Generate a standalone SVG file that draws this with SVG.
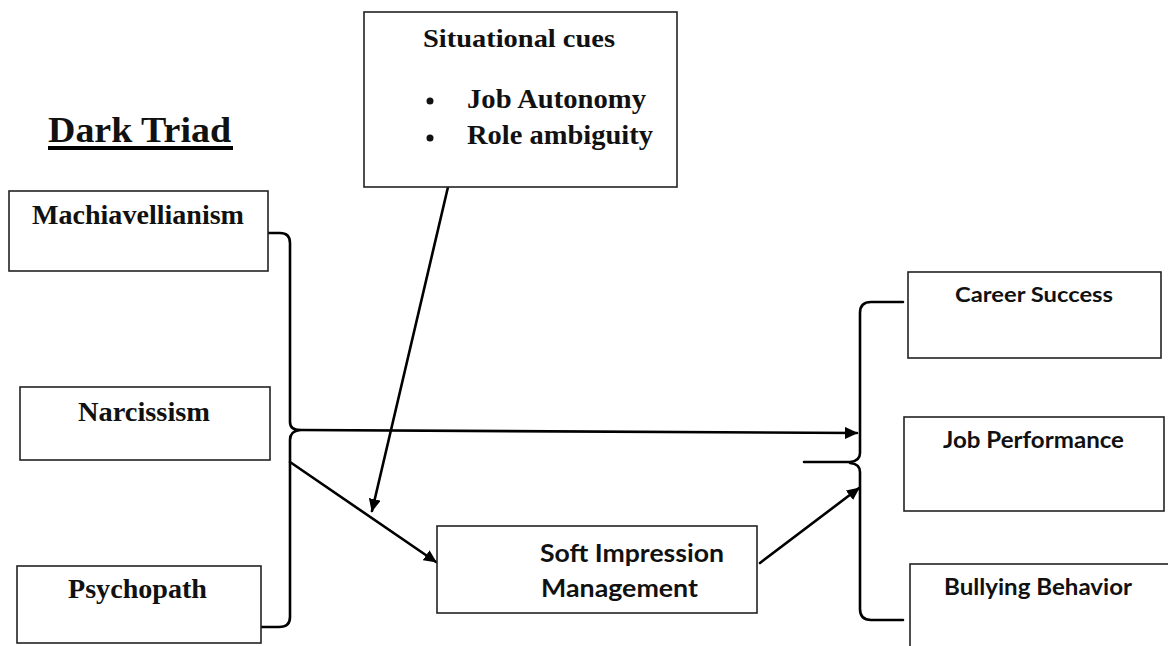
<svg xmlns="http://www.w3.org/2000/svg" width="1168" height="646" viewBox="0 0 1168 646">
  <defs>
    <style>
      .box { fill: #fff; stroke: #222; stroke-width: 1.6; }
      .serif { font-family: "Liberation Serif", "Times New Roman", serif; font-weight: bold; fill: #111; }
      .sans { font-family: Lato, "Open Sans", "Liberation Sans", sans-serif; font-weight: bold; fill: #111; }
      .wire { fill: none; stroke: #000; stroke-width: 2.6; stroke-linejoin: round; stroke-linecap: round; }
    </style>
    <marker id="arrow" viewBox="0 0 13 12" refX="12" refY="6" markerWidth="13" markerHeight="12" markerUnits="userSpaceOnUse" orient="auto">
      <path d="M0,0 L13,6 L0,12 Z" fill="#000"/>
    </marker>
  </defs>
  <rect width="1168" height="646" fill="#fff"/>

  <!-- heading -->
  <g id="title">
    <text class="serif" x="48" y="142" font-size="36" textLength="183" lengthAdjust="spacingAndGlyphs">Dark Triad</text>
    <rect x="48" y="146" width="185" height="4" fill="#000"/>
  </g>

  <!-- connectors -->
  <g id="connectors">
    <!-- brace joining the three traits -->
    <path class="wire" d="M258,233 L280,233 Q290,233 290,243 L290,422 Q290,430 300,430 Q290,431 290,440 L290,617 Q290,627 279,627 L261,627"/>
    <!-- traits to outcomes -->
    <path class="wire" d="M300,430 L857,433" marker-end="url(#arrow)"/>
    <!-- traits to soft impression management -->
    <path class="wire" d="M290,462 L436,562" marker-end="url(#arrow)"/>
    <!-- situational cues moderating -->
    <path class="wire" d="M448,187 L372,511" marker-end="url(#arrow)"/>
    <!-- soft impression management to outcomes -->
    <path class="wire" d="M760,563 L859,488" marker-end="url(#arrow)"/>
    <!-- brace joining the three outcomes -->
    <path class="wire" d="M903,302 L871,302 Q860,302 860,313 L860,453 Q860,461 850,462 L804,462"/>
    <path class="wire" d="M850,463 Q860,464 860,472 L860,609 Q860,620 871,620 L903,620"/>
  </g>

  <g id="situational-cues">
    <rect class="box" x="364" y="12" width="313" height="175"/>
    <text class="serif" x="423" y="47" font-size="25" textLength="192" lengthAdjust="spacingAndGlyphs">Situational cues</text>
    <circle cx="430" cy="101" r="3.5" fill="#111"/>
    <text class="serif" x="467" y="108" font-size="28" textLength="179" lengthAdjust="spacingAndGlyphs">Job Autonomy</text>
    <circle cx="430" cy="138" r="3.5" fill="#111"/>
    <text class="serif" x="467" y="144" font-size="28" textLength="186" lengthAdjust="spacingAndGlyphs">Role ambiguity</text>
  </g>

  <g id="machiavellianism">
    <rect class="box" x="9" y="191" width="259" height="80"/>
    <text class="serif" x="32" y="224" font-size="28" textLength="212" lengthAdjust="spacingAndGlyphs">Machiavellianism</text>
  </g>

  <g id="narcissism">
    <rect class="box" x="20" y="387" width="250" height="73"/>
    <text class="serif" x="78" y="421" font-size="28" textLength="132" lengthAdjust="spacingAndGlyphs">Narcissism</text>
  </g>

  <g id="psychopath">
    <rect class="box" x="17" y="566" width="244" height="77"/>
    <text class="serif" x="68" y="598" font-size="28" textLength="139" lengthAdjust="spacingAndGlyphs">Psychopath</text>
  </g>

  <g id="soft-impression-management">
    <rect class="box" x="437" y="526" width="320" height="87"/>
    <text class="sans" x="540" y="562" font-size="25" textLength="184" lengthAdjust="spacingAndGlyphs">Soft Impression</text>
    <text class="sans" x="541" y="597" font-size="25" textLength="157" lengthAdjust="spacingAndGlyphs">Management</text>
  </g>

  <g id="career-success">
    <rect class="box" x="908" y="272" width="253" height="86"/>
    <text class="sans" x="955" y="302" font-size="21" textLength="158" lengthAdjust="spacingAndGlyphs">Career Success</text>
  </g>

  <g id="job-performance">
    <rect class="box" x="904" y="417" width="260" height="94"/>
    <text class="sans" x="943" y="448" font-size="22" textLength="181" lengthAdjust="spacingAndGlyphs">Job Performance</text>
  </g>

  <g id="bullying-behavior">
    <rect class="box" x="910" y="564" width="262" height="100"/>
    <text class="sans" x="944" y="595" font-size="22" textLength="188" lengthAdjust="spacingAndGlyphs">Bullying Behavior</text>
  </g>
</svg>
